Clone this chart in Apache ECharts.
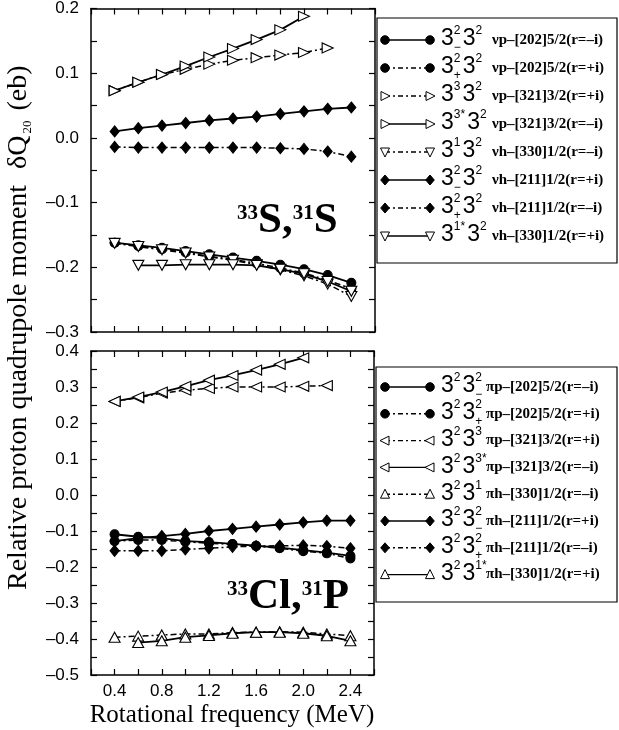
<!DOCTYPE html>
<html><head><meta charset="utf-8">
<script src="https://cdn.jsdelivr.net/npm/echarts@6/dist/echarts.min.js"></script>
<style>html,body{margin:0;padding:0;background:#fff}#c{width:619px;height:730px}</style>
</head><body><div id="c"></div><script>
// ---------- x values (rotational frequency, MeV) ----------
const freqAll    = [0.4,0.6,0.8,1.0,1.2,1.4,1.6,1.8,2.0,2.2,2.4];
const freqFrom06 = [0.6,0.8,1.0,1.2,1.4,1.6,1.8,2.0,2.2,2.4];
const freqTo20   = [0.4,0.6,0.8,1.0,1.2,1.4,1.6,1.8,2.0];
const freqTo22   = [0.4,0.6,0.8,1.0,1.2,1.4,1.6,1.8,2.0,2.2];

// ---------- top panel: 33S, 31S ----------
const nuP202_mi = [-0.162,-0.166,-0.170,-0.175,-0.180,-0.185,-0.190,-0.196,-0.203,-0.212,-0.224];
const nuP202_pi = [-0.162,-0.167,-0.172,-0.177,-0.183,-0.188,-0.194,-0.201,-0.209,-0.220,-0.233];
const nuP321_pi = [0.073,0.086,0.098,0.106,0.114,0.120,0.124,0.128,0.132,0.139];
const nuP321_mi = [0.073,0.086,0.098,0.111,0.125,0.138,0.152,0.167,0.188];
const nuH330_mi = [-0.163,-0.168,-0.173,-0.178,-0.184,-0.189,-0.196,-0.204,-0.213,-0.226,-0.245];
const nuH211_pi = [0.010,0.015,0.019,0.023,0.027,0.030,0.033,0.037,0.041,0.045,0.047];
const nuH211_mi = [-0.014,-0.015,-0.015,-0.015,-0.015,-0.015,-0.015,-0.016,-0.017,-0.021,-0.029];
const nuH330_pi = [-0.197,-0.197,-0.196,-0.196,-0.196,-0.197,-0.203,-0.210,-0.222,-0.237];

// ---------- bottom panel: 33Cl, 31P ----------
const piP202_mi = [-0.109,-0.116,-0.120,-0.128,-0.131,-0.136,-0.141,-0.146,-0.153,-0.160,-0.169];
const piP202_pi = [-0.128,-0.125,-0.125,-0.130,-0.134,-0.137,-0.142,-0.148,-0.156,-0.162,-0.176];
const piP321_pi = [0.260,0.270,0.283,0.291,0.296,0.300,0.300,0.300,0.302,0.304];
const piP321_mi = [0.260,0.272,0.286,0.302,0.319,0.332,0.347,0.363,0.381];
const piH330_mi = [-0.395,-0.392,-0.389,-0.386,-0.386,-0.382,-0.381,-0.380,-0.381,-0.386,-0.391];
const piH211_pi = [-0.128,-0.120,-0.114,-0.108,-0.100,-0.094,-0.088,-0.082,-0.076,-0.071,-0.071];
const piH211_mi = [-0.155,-0.155,-0.155,-0.151,-0.148,-0.144,-0.142,-0.141,-0.140,-0.142,-0.148];
const piH330_pi = [-0.410,-0.405,-0.395,-0.390,-0.384,-0.381,-0.381,-0.384,-0.391,-0.405];

// ---------- legend texts ----------
const topNames  = ['νp–[202]5/2(r=–i)','νp–[202]5/2(r=+i)','νp–[321]3/2(r=+i)','νp–[321]3/2(r=–i)',
                   'νh–[330]1/2(r=–i)','νh–[211]1/2(r=+i)','νh–[211]1/2(r=–i)','νh–[330]1/2(r=+i)'];
const topMath   = ['3^{2}_{−}3^{2}','3^{2}_{+}3^{2}','3^{3}3^{2}','3^{3*}3^{2}',
                   '3^{1}3^{2}','3^{2}_{−}3^{2}','3^{2}_{+}3^{2}','3^{1*}3^{2}'];
const botNames  = ['πp–[202]5/2(r=–i)','πp–[202]5/2(r=+i)','πp–[321]3/2(r=+i)','πp–[321]3/2(r=–i)',
                   'πh–[330]1/2(r=–i)','πh–[211]1/2(r=+i)','πh–[211]1/2(r=–i)','πh–[330]1/2(r=+i)'];
const botMath   = ['3^{2}3^{2}_{−}','3^{2}3^{2}_{+}','3^{2}3^{3}','3^{2}3^{3*}',
                   '3^{2}3^{1}','3^{2}3^{2}_{−}','3^{2}3^{2}_{+}','3^{2}3^{1*}'];
const xTitle = 'Rotational frequency (MeV)';

// ---------- series specs ----------
const specs = [
 {panel:0, x:freqAll,    y:nuP202_mi, mk:'circle',  dash:false},
 {panel:0, x:freqAll,    y:nuP202_pi, mk:'circle',  dash:true},
 {panel:0, x:freqTo22,   y:nuP321_pi, mk:'triR',    dash:true},
 {panel:0, x:freqTo20,   y:nuP321_mi, mk:'triR',    dash:false},
 {panel:0, x:freqAll,    y:nuH330_mi, mk:'triD',    dash:true},
 {panel:0, x:freqAll,    y:nuH211_pi, mk:'diamond', dash:false},
 {panel:0, x:freqAll,    y:nuH211_mi, mk:'diamond', dash:true},
 {panel:0, x:freqFrom06, y:nuH330_pi, mk:'triD',    dash:false},
 {panel:1, x:freqAll,    y:piP202_mi, mk:'circle',  dash:false},
 {panel:1, x:freqAll,    y:piP202_pi, mk:'circle',  dash:true},
 {panel:1, x:freqTo22,   y:piP321_pi, mk:'triL',    dash:true},
 {panel:1, x:freqTo20,   y:piP321_mi, mk:'triL',    dash:false},
 {panel:1, x:freqAll,    y:piH330_mi, mk:'triU',    dash:true},
 {panel:1, x:freqAll,    y:piH211_pi, mk:'diamond', dash:false},
 {panel:1, x:freqAll,    y:piH211_mi, mk:'diamond', dash:true},
 {panel:1, x:freqFrom06, y:piH330_pi, mk:'triU',    dash:false}
];
specs.forEach((s,i)=>{ const k=i%8; s.name=(s.panel?botNames:topNames)[k]; s.math=(s.panel?botMath:topMath)[k]; });

const DASH = [6,3,2,3];
const mkStyle = {
  circle:  {symbol:'circle',   size:9,       rot:0,   fill:'#000'},
  diamond: {symbol:'diamond',  size:[9,11],  rot:0,   fill:'#000'},
  triR:    {symbol:'triangle', size:[10,11], rot:-90, fill:'#fff'},
  triL:    {symbol:'triangle', size:[10,11], rot:90,  fill:'#fff'},
  triD:    {symbol:'triangle', size:[11,10], rot:180, fill:'#fff'},
  triU:    {symbol:'triangle', size:[11,10], rot:0,   fill:'#fff'}
};

const series = specs.map(s=>{
  const m = mkStyle[s.mk];
  return {
    type:'line', name:s.name, xAxisIndex:s.panel*2, yAxisIndex:s.panel*2,
    data:s.x.map((xv,i)=>[xv,s.y[i]]),
    symbol:m.symbol, symbolSize:m.size, symbolRotate:m.rot, showAllSymbol:true,
    lineStyle:{color:'#000', width:s.dash?1.5:1.8, type:s.dash?DASH:'solid'},
    itemStyle:{color:m.fill, borderColor:'#000', borderWidth:1.1},
    emphasis:{disabled:true}, animation:false, z:3
  };
});

// ---------- axes ----------
const fontSans = '"Liberation Sans", Arial, sans-serif';
const fontSerif = '"Liberation Serif", "Times New Roman", serif';
function xAx(grid, pos, labels){
  return {type:'value', gridIndex:grid, position:pos, min:0.2, max:2.6, interval:0.2,
    axisLine:{show:true, onZero:false, lineStyle:{color:'#000', width:1.5}},
    axisTick:{show:true, inside:true, length:6, lineStyle:{color:'#000', width:1.2}},
    axisLabel:{show:labels, margin:8, color:'#000', fontFamily:fontSans, fontSize:17, hideOverlap:false,
      formatter:v=>{const k=Math.round(v*10); return (k%4===0&&k>=4&&k<=24)?(k/10).toFixed(1):'';}},
    splitLine:{show:false}};
}
function yAx(grid, pos, labels, mn, mx){
  return {type:'value', gridIndex:grid, position:pos, min:mn, max:mx, interval:0.05,
    axisLine:{show:true, onZero:false, lineStyle:{color:'#000', width:1.5}},
    axisTick:{show:true, inside:true, length:6, lineStyle:{color:'#000', width:1.2}},
    axisLabel:{show:labels, margin:12, color:'#000', fontFamily:fontSans, fontSize:17, hideOverlap:false,
      formatter:v=>{const k=Math.round(v*100); if(k%10!==0) return ''; const s=(Math.abs(k)/100).toFixed(1); return k<0?'–'+s:s;}},
    splitLine:{show:false}};
}

// ---------- graphics (legend, titles, annotations) ----------
const cv = document.createElement('canvas').getContext('2d');
function tw(t, font){ cv.font = font; return cv.measureText(t).width; }
function parseMath(s){
  const out=[]; let i=0;
  while(i<s.length){
    const c=s[i];
    if(c==='^'||c==='_'){ const j=s.indexOf('}',i); const v=s.slice(i+2,j); const last=out[out.length-1]; if(c==='^') last.sup=v; else last.sub=v; i=j+1; }
    else { out.push({base:c}); i++; }
  }
  return out;
}
function txt(x,y,t,font,align,valign,extra){
  return Object.assign({type:'text', x:x, y:y, silent:true,
    style:{text:t, font:font, fill:'#000', align:align||'left', verticalAlign:valign||'middle',
      textAlign:align||'left', textVerticalAlign:valign||'middle'}}, extra||{});
}
const G = [];
function drawMath(x, y, s){
  const bf = '23px '+fontSans, sf = '12px '+fontSans;
  let cx = x;
  parseMath(s).forEach(t=>{
    G.push(txt(cx, y-1, t.base, bf));
    cx += tw(t.base, bf);
    let w = 0;
    if(t.sup){ G.push(txt(cx, y-9, t.sup, sf)); w=Math.max(w,tw(t.sup,sf)); }
    if(t.sub){ G.push(txt(cx, y+8, t.sub, sf)); w=Math.max(w,tw(t.sub,sf)); }
    cx += w + 2;
  });
}
function markerShape(mk, cx, cy){
  const st = {fill: mkStyle[mk].fill, stroke:'#000', lineWidth:1};
  if(mk==='circle') return {type:'circle', shape:{cx:cx, cy:cy, r:4.3}, style:st, silent:true};
  let pts;
  if(mk==='diamond') pts=[[0,-5],[4.3,0],[0,5],[-4.3,0]];
  if(mk==='triR') pts=[[-4,-4.5],[5,0],[-4,4.5]];
  if(mk==='triL') pts=[[4,-4.5],[-5,0],[4,4.5]];
  if(mk==='triD') pts=[[-4.5,-4],[4.5,-4],[0,5]];
  if(mk==='triU') pts=[[-4.5,4],[4.5,4],[0,-5]];
  return {type:'polygon', shape:{points:pts.map(p=>[p[0]+cx,p[1]+cy])}, style:st, silent:true};
}
function legendBox(x, y, w, h, panel, rowY0, rowStep, labelX, labelFont){
  G.push({type:'rect', shape:{x:x, y:y, width:w, height:h}, style:{fill:'#fff', stroke:'#000', lineWidth:1.2}, silent:true});
  specs.filter(s=>s.panel===panel).forEach((s,k)=>{
    const ry = rowY0 + k*rowStep;
    G.push({type:'line', shape:{x1:385, y1:ry, x2:430, y2:ry}, style:{stroke:'#000', lineWidth:1.4, lineDash:s.dash?[5,3,2,3]:null}, silent:true});
    G.push(markerShape(s.mk, 385, ry));
    G.push(markerShape(s.mk, 430, ry));
    drawMath(441, ry, s.math);
    G.push(txt(labelX, ry, s.name, labelFont));
  });
}
legendBox(377, 18, 240, 245, 0, 40, 28, 492, 'bold 15px '+fontSerif);
legendBox(376, 367, 241, 235, 1, 387, 26.8, 486, 'bold 15px '+fontSerif);

// nucleus annotations
function nucleus(x, yc, parts){
  let cx = x;
  parts.forEach(p=>{
    const f = p.sup ? 'bold 21px '+fontSerif : 'bold 43px '+fontSerif;
    G.push(txt(cx, p.sup ? yc-7 : yc, p.t, f));
    cx += tw(p.t, f);
  });
}
nucleus(237, 221, [{t:'33',sup:true},{t:'S,'},{t:'31',sup:true},{t:'S'}]);
nucleus(227, 597, [{t:'33',sup:true},{t:'Cl,'},{t:'31',sup:true},{t:'P'}]);

// x-axis title
G.push(txt(232, 715, xTitle, '25px '+fontSerif, 'center', 'middle'));

// y-axis title (rotated group)
(function(){
  const mf = '28px '+fontSerif, sf = '13px '+fontSerif;
  const main = 'Relative proton quadrupole moment';
  const ch = [];
  let cx = 0;
  ch.push(txt(cx, 0, main, mf)); cx += tw(main, mf) + 16;
  ch.push(txt(cx, 0, 'δQ', mf)); cx += tw('δQ', mf) + 2;
  ch.push(txt(cx, 9, '20', sf)); cx += tw('20', sf) + 10;
  ch.push(txt(cx, 0, '(eb)', mf));
  G.push({type:'group', x:19, y:590, rotation:Math.PI/2, children:ch, silent:true});
})();

const option = {
  backgroundColor:'#fff', animation:false,
  grid:[{left:91, top:5, width:284, height:327}, {left:91, top:351, width:283, height:324}],
  xAxis:[xAx(0,'bottom',false), xAx(0,'top',false), xAx(1,'bottom',true), xAx(1,'top',false)],
  yAxis:[yAx(0,'left',true,-0.3,0.2), yAx(0,'right',false,-0.3,0.2), yAx(1,'left',true,-0.5,0.4), yAx(1,'right',false,-0.5,0.4)],
  series:series,
  graphic:{elements:G}
};
const chart = echarts.init(document.getElementById('c'), null, {renderer:'canvas'});
chart.setOption(option);
</script></body></html>
